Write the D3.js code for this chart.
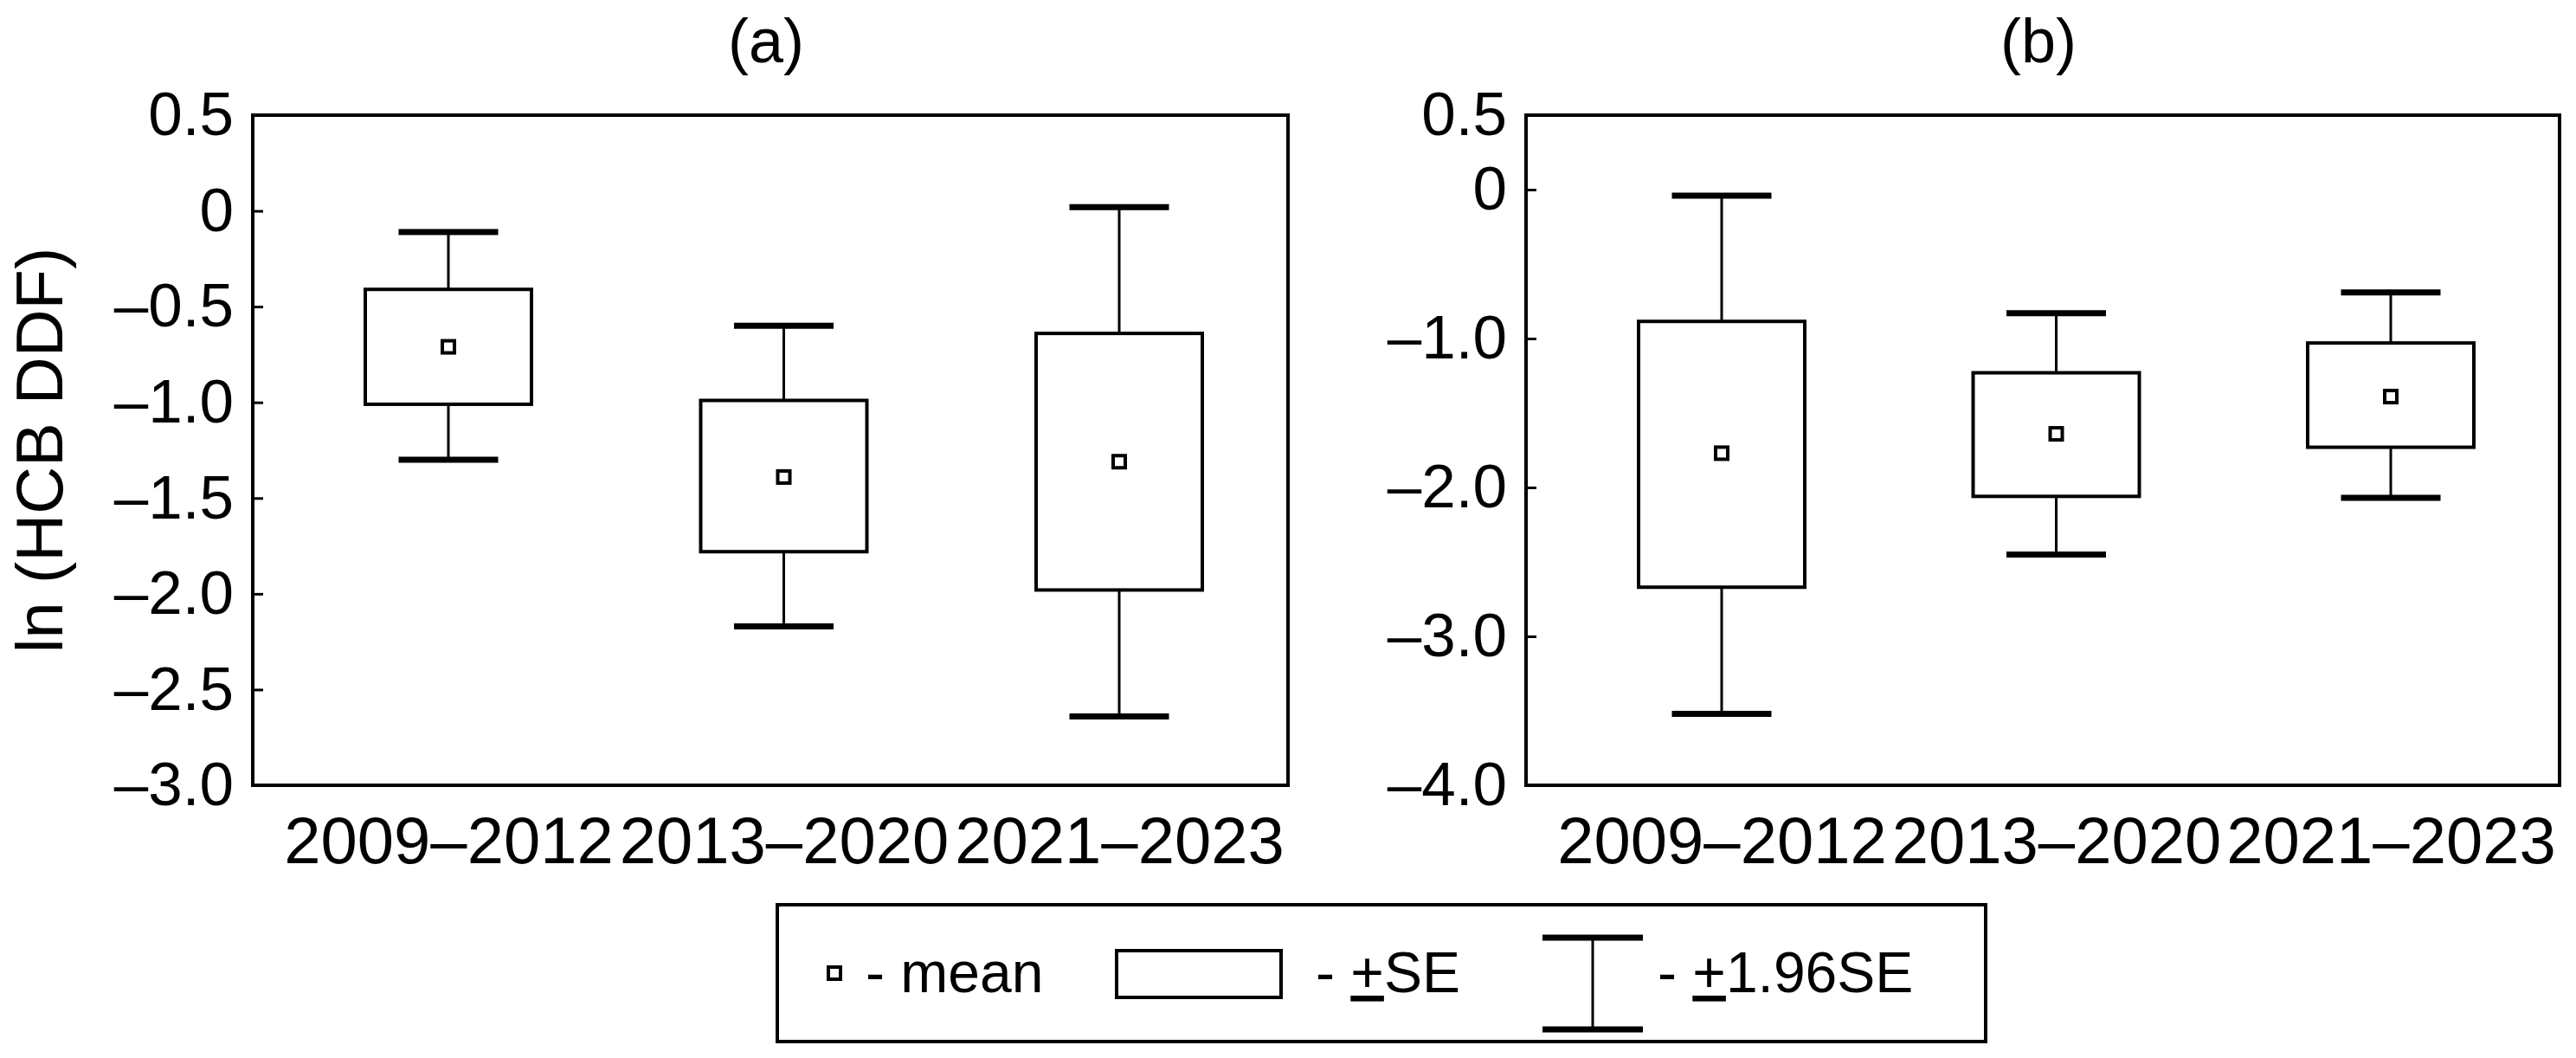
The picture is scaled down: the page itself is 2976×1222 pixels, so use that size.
<!DOCTYPE html>
<html>
<head>
<meta charset="utf-8">
<script src="https://cdn.jsdelivr.net/npm/d3@7"></script>
<style>
  body { margin: 0; background: #fff; }
  text { font-family: "Liberation Sans", Arial, sans-serif; fill: #000; }
</style>
</head>
<body>
<div class="chart"></div>
<script>
var periods = ["2009–2012", "2013–2020", "2021–2023"];

// panel (a)
var aMean  = [-0.71, -1.39, -1.31];
var aSeLo  = [-1.01, -1.78, -1.98];
var aSeHi  = [-0.41, -0.99, -0.64];
var aCiLo  = [-1.30, -2.17, -2.64];
var aCiHi  = [-0.11, -0.60, 0.02];
var aTicks = [0.5, 0, -0.5, -1.0, -1.5, -2.0, -2.5, -3.0];

// panel (b)
var bMean  = [-1.77, -1.64, -1.39];
var bSeLo  = [-2.67, -2.06, -1.73];
var bSeHi  = [-0.885, -1.23, -1.03];
var bCiLo  = [-3.52, -2.45, -2.07];
var bCiHi  = [-0.04, -0.83, -0.69];
var bTicks = [0.5, 0, -1.0, -2.0, -3.0, -4.0];

var svg = d3.select(".chart").append("svg")
    .attr("width", 2976)
    .attr("height", 1222);

function fmt(v) {
    if (v === 0) return "0";
    return (v < 0 ? "–" : "") + Math.abs(v).toFixed(1);
}

function panel(opts) {
    var left = opts.left, right = opts.right, top = 133, bottom = 907;
    var w = right - left, h = bottom - top;
    var g = svg.append("g").attr("transform", `translate(${left},${top})`);

    var x = d3.scalePoint().domain(periods).range([226, w - 195]);
    var y = d3.scaleLinear().domain(opts.domain).range([h, 0]);

    var data = periods.map((p, i) => ({
        p: p, mean: opts.mean[i], seLo: opts.seLo[i], seHi: opts.seHi[i],
        ciLo: opts.ciLo[i], ciHi: opts.ciHi[i]
    }));

    var yAxis = d3.axisLeft(y).tickValues(opts.ticks).tickFormat(fmt).tickSizeInner(-12).tickPadding(22);
    var yg = g.append("g").call(yAxis);
    yg.select(".domain").remove();
    yg.selectAll(".tick line").attr("stroke-width", 3);
    yg.selectAll(".tick text").style("font-size", "71px").attr("fill", "#000");

    var xAxis = d3.axisBottom(x).tickSize(0).tickPadding(36);
    var xg = g.append("g").attr("transform", `translate(0,${h})`).call(xAxis);
    xg.select(".domain").remove();
    xg.selectAll(".tick text").style("font-size", "76px").attr("fill", "#000");

    var bw = 192, cw = 115;
    var box = g.append("g").selectAll("g").data(data).enter().append("g");

    box.append("line")
        .attr("x1", d => x(d.p)).attr("x2", d => x(d.p))
        .attr("y1", d => y(d.ciHi)).attr("y2", d => y(d.ciLo))
        .attr("stroke", "#000").attr("stroke-width", 3);
    box.append("rect")
        .attr("x", d => x(d.p) - bw / 2).attr("width", bw)
        .attr("y", d => y(d.seHi)).attr("height", d => y(d.seLo) - y(d.seHi))
        .attr("fill", "#fff").attr("stroke", "#000").attr("stroke-width", 4);
    ["ciHi", "ciLo"].forEach(k => {
        box.append("line")
            .attr("x1", d => x(d.p) - cw / 2).attr("x2", d => x(d.p) + cw / 2)
            .attr("y1", d => y(d[k])).attr("y2", d => y(d[k]))
            .attr("stroke", "#000").attr("stroke-width", 7);
    });
    box.append("rect")
        .attr("x", d => x(d.p) - 7).attr("y", d => y(d.mean) - 7)
        .attr("width", 14).attr("height", 14)
        .attr("fill", "#fff").attr("stroke", "#000").attr("stroke-width", 4);

    g.append("rect").attr("width", w).attr("height", h)
        .attr("fill", "none").attr("stroke", "#000").attr("stroke-width", 4);

    svg.append("text").attr("x", left + w / 2 - 5).attr("y", 72)
        .attr("text-anchor", "middle").style("font-size", "72px").text(opts.title);
}

panel({left: 292, right: 1488, domain: [-3.0, 0.5], ticks: aTicks, title: "(a)",
       mean: aMean, seLo: aSeLo, seHi: aSeHi, ciLo: aCiLo, ciHi: aCiHi});
panel({left: 1763, right: 2957, domain: [-4.0, 0.5], ticks: bTicks, title: "(b)",
       mean: bMean, seLo: bSeLo, seHi: bSeHi, ciLo: bCiLo, ciHi: bCiHi});

svg.append("text")
    .attr("transform", "translate(72,520) rotate(-90)")
    .attr("text-anchor", "middle").style("font-size", "76px")
    .text("ln (HCB DDF)");

// legend
var lg = svg.append("g");
lg.append("rect").attr("x", 898).attr("y", 1045).attr("width", 1396).attr("height", 158)
    .attr("fill", "#fff").attr("stroke", "#000").attr("stroke-width", 4);
lg.append("rect").attr("x", 957).attr("y", 1117).attr("width", 14).attr("height", 14)
    .attr("fill", "#fff").attr("stroke", "#000").attr("stroke-width", 4);
lg.append("text").attr("x", 1000).attr("y", 1146).style("font-size", "66px").text("- mean");
lg.append("rect").attr("x", 1290).attr("y", 1098).attr("width", 190).attr("height", 54)
    .attr("fill", "#fff").attr("stroke", "#000").attr("stroke-width", 4);
var t1 = lg.append("text").attr("x", 1520).attr("y", 1146).style("font-size", "66px");
t1.append("tspan").text("- ");
t1.append("tspan").style("text-decoration", "underline").text("+");
t1.append("tspan").text("SE");
lg.append("line").attr("x1", 1840).attr("x2", 1840).attr("y1", 1083).attr("y2", 1189)
    .attr("stroke", "#000").attr("stroke-width", 3);
[1083, 1189].forEach(v => lg.append("line").attr("x1", 1782).attr("x2", 1898)
    .attr("y1", v).attr("y2", v).attr("stroke", "#000").attr("stroke-width", 7));
var t2 = lg.append("text").attr("x", 1915).attr("y", 1146).style("font-size", "66px");
t2.append("tspan").text("- ");
t2.append("tspan").style("text-decoration", "underline").text("+");
t2.append("tspan").text("1.96SE");
</script>
</body>
</html>
